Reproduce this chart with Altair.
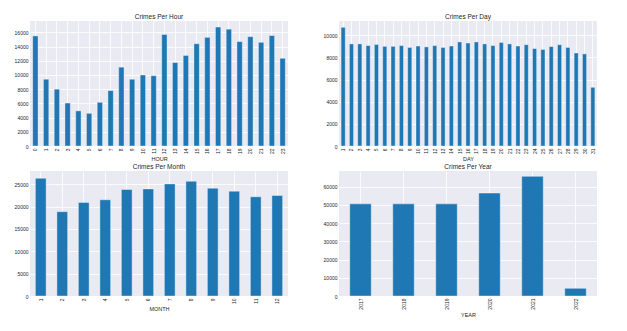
import altair as alt
import pandas as pd

hours = list(range(24))
hour_counts = [15500, 9400, 8000, 6050, 4950, 4600, 6150, 7800, 11100, 9400, 10000, 9900,
               15700, 11750, 12750, 14400, 15300, 16750, 16450, 14700, 15400, 14600, 15550, 12350]

days = list(range(1, 32))
day_counts = [10720, 9220, 9220, 9070, 9170, 9000, 9000, 9070, 8900, 9030, 8950, 9070, 8900,
              9030, 9400, 9300, 9400, 9220, 9070, 9350, 9220, 9030, 9150, 8800, 8720, 8980,
              9150, 8900, 8400, 8320, 5300]

months = list(range(1, 13))
month_counts = [26330, 18860, 20930, 21520, 23820, 23960, 25070, 25670, 24110, 23450, 22190, 22490]

years = [2017, 2018, 2019, 2020, 2021, 2022]
year_counts = [50600, 50600, 50600, 56500, 65700, 4230]

BAR = "#1f77b4"
BG = "#EAEAF2"
TXT = "#262626"
FONT = "Liberation Sans"


def panel(cats, vals, xname, title, ymax, ystep):
    df = pd.DataFrame({xname: cats, "count": vals})
    return alt.Chart(df, title=title).mark_bar(
        color=BAR, stroke="white", strokeWidth=0.4
    ).encode(
        x=alt.X(f"{xname}:O", title=xname,
                scale=alt.Scale(paddingInner=0.5, paddingOuter=0.25),
                axis=alt.Axis(labelAngle=270, bandPosition=0.5, grid=True)),
        y=alt.Y("count:Q", title=None,
                scale=alt.Scale(domain=[0, ymax], nice=False),
                axis=alt.Axis(values=list(range(0, ymax, ystep)), format="d", grid=True)),
    ).properties(width=258, height=125)


c1 = panel(hours, hour_counts, "HOUR", "Crimes Per Hour", 17600, 2000)
c2 = panel(days, day_counts, "DAY", "Crimes Per Day", 11290, 2000)
c3 = panel(months, month_counts, "MONTH", "Crimes Per Month", 27960, 5000)
c4 = panel(years, year_counts, "YEAR", "Crimes Per Year", 68650, 10000)

chart = alt.concat(c1, c2, c3, c4, columns=2, spacing={"row": 0, "column": 35}).properties(
    padding={"left": 14, "top": 13, "right": 5, "bottom": 5},
    background="white",
).configure_view(
    fill=BG, stroke=None
).configure_axis(
    domain=False, ticks=False, gridColor="white", gridWidth=0.8,
    labelFont=FONT, labelFontSize=5, labelColor=TXT, labelPadding=2,
    titleFont=FONT, titleFontSize=5.5, titleColor=TXT, titleFontWeight="normal", titlePadding=3,
).configure_title(
    font=FONT, fontSize=6.5, fontWeight="normal", color=TXT, offset=1
)

chart.save("out.html", embed_options={"renderer": "svg", "actions": False})
